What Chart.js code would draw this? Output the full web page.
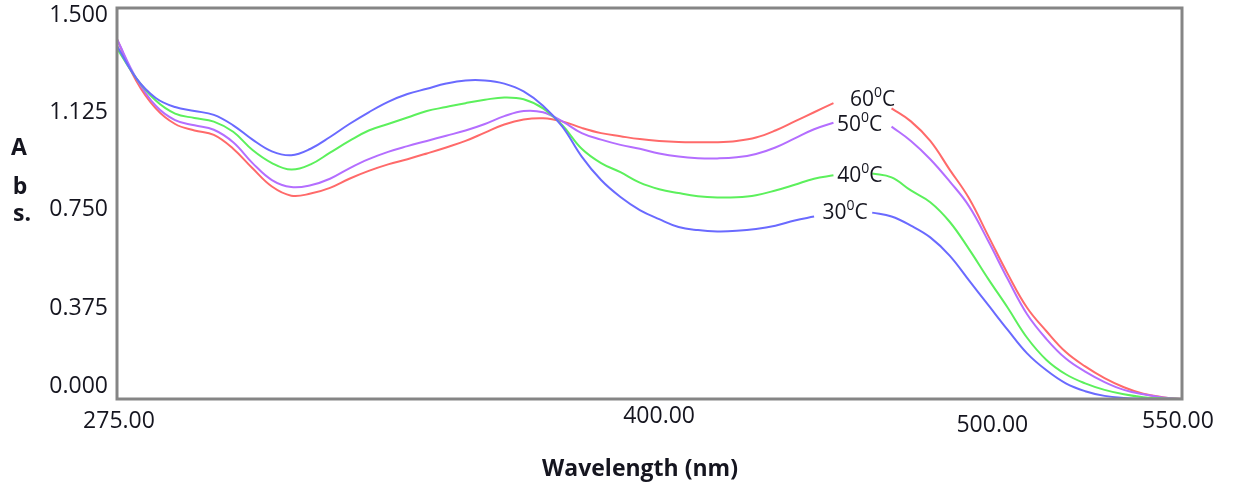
<!DOCTYPE html>
<html>
<head>
<meta charset="utf-8">
<script src="https://cdn.jsdelivr.net/npm/chart.js@4/dist/chart.umd.min.js"></script>
<style>
    html, body { margin: 0; padding: 0; background: #fff; }
    #wrap { width: 1235px; height: 492px; }
</style>
</head>
<body>
<div id="wrap"><canvas id="absChart" width="1235" height="492"></canvas></div>
<script>
// Comprimentos de onda (nm)
const wavelengths = [
    275, 280, 285, 290, 295, 300, 305, 310, 315, 320,
    325, 330, 335, 340, 345, 350, 355, 360, 365, 370,
    375, 380, 385, 390, 395, 400, 405, 410, 415, 420,
    425, 430, 435, 440, 445, 450, 455, 460, 465, 470,
    475, 480, 485, 490, 495, 500, 505, 510, 515, 520,
    525, 530, 535, 540, 545, 550
];

// Absorbância por temperatura (null = espaço do rótulo)
const abs30 = [
    1.355, 1.23, 1.155, 1.12, 1.105, 1.09, 1.05, 0.995, 0.95, 0.935,
    0.96, 1.005, 1.055, 1.10, 1.14, 1.17, 1.19, 1.21, 1.222, 1.222,
    1.21, 1.18, 1.125, 1.045, 0.93, 0.84, 0.775, 0.725, 0.69, 0.66,
    0.648, 0.643, 0.645, 0.652, 0.665, 0.685, 0.70, null, null, 0.715,
    0.70, 0.665, 0.62, 0.55, 0.455, 0.36, 0.265, 0.175, 0.11, 0.06,
    0.03, 0.012, 0.004, 0.001, 0, 0
];
const abs40 = [
    1.345, 1.23, 1.145, 1.095, 1.078, 1.064, 1.025, 0.955, 0.905, 0.88,
    0.90, 0.945, 0.99, 1.03, 1.055, 1.08, 1.105, 1.12, 1.135, 1.148,
    1.157, 1.15, 1.115, 1.05, 0.96, 0.905, 0.87, 0.83, 0.805, 0.79,
    0.778, 0.773, 0.774, 0.782, 0.80, 0.822, 0.845, 0.858, null, 0.865,
    0.85, 0.80, 0.755, 0.68, 0.575, 0.46, 0.35, 0.235, 0.15, 0.095,
    0.06, 0.035, 0.018, 0.007, 0.002, 0
];
const abs50 = [
    1.38, 1.23, 1.125, 1.07, 1.05, 1.033, 0.985, 0.905, 0.84, 0.813,
    0.82, 0.845, 0.885, 0.92, 0.948, 0.97, 0.99, 1.01, 1.03, 1.055,
    1.085, 1.105, 1.10, 1.065, 1.02, 0.995, 0.975, 0.96, 0.942, 0.93,
    0.924, 0.923, 0.927, 0.94, 0.965, 1.0, 1.035, 1.06, null, null,
    1.045, 0.99, 0.92, 0.835, 0.74, 0.605, 0.46, 0.325, 0.23, 0.155,
    0.105, 0.065, 0.035, 0.018, 0.006, 0
];
const abs60 = [
    1.38, 1.22, 1.115, 1.055, 1.03, 1.013, 0.96, 0.885, 0.815, 0.78,
    0.788, 0.81, 0.845, 0.875, 0.9, 0.92, 0.942, 0.965, 0.99, 1.022,
    1.053, 1.072, 1.077, 1.065, 1.04, 1.02, 1.008, 0.997, 0.99, 0.986,
    0.985, 0.985, 0.99, 1.003, 1.03, 1.065, 1.1, 1.135, null, null,
    1.115, 1.065, 0.99, 0.88, 0.77, 0.625, 0.48, 0.35, 0.26, 0.18,
    0.125, 0.08, 0.045, 0.02, 0.007, 0
];

const seriesNames = ['30', '40', '50', '60'];
const xTicks = [275, 400, 500, 550];
const yTicks = [0, 0.375, 0.75, 1.125, 1.5];

// Estilo
const lineColors = ['#6a6aff', '#5cf05c', '#b46eff', '#ff6a6a'];
const textColor = '#15151f';
const tickFont = '23px "Open Sans", sans-serif';
const xTickNudge = [[2, 421], [58, 416], [4, 425], [-4, 421]];
const yTickNudge = [-13, 7, 6, 7, 7];
const labelNudge = [[2, -2], [7, 2], [-3, 0], [10, -6]];

function toPoints(values) {
    return wavelengths.map((w, i) => ({ x: w, y: values[i] }));
}

// Rótulos, eixos e moldura desenhados à mão
const decorPlugin = {
    id: 'decor',
    afterDatasetsDraw(chart) {
        const ctx = chart.ctx;
        const area = chart.chartArea;
        const xs = chart.scales.x;
        const ys = chart.scales.y;

        ctx.save();
        // moldura
        ctx.strokeStyle = '#858585';
        ctx.lineWidth = 3;
        ctx.strokeRect(area.left, area.top, area.right - area.left, area.bottom - area.top);

        ctx.fillStyle = textColor;
        ctx.font = tickFont;
        ctx.textBaseline = 'middle';

        // eixo y
        ctx.textAlign = 'right';
        yTicks.forEach((v, i) => {
            ctx.fillText(v.toFixed(3), area.left - 9, ys.getPixelForValue(v) + yTickNudge[i]);
        });

        // eixo x
        ctx.textAlign = 'center';
        xTicks.forEach((v, i) => {
            ctx.fillText(v.toFixed(2), xs.getPixelForValue(v) + xTickNudge[i][0], xTickNudge[i][1]);
        });

        // títulos
        ctx.font = 'bold 23px "Open Sans", sans-serif';
        ctx.fillText('Wavelength (nm)', 640, 469);
        ctx.fillText('A', 19, 148);
        ctx.fillText('b', 20, 187);
        ctx.fillText('s.', 22, 214);

        // rótulos de temperatura no espaço de cada curva
        chart.data.datasets.forEach((ds, i) => {
            const pts = ds.data;
            let a = -1;
            for (let k = 1; k < pts.length; k++) {
                if (pts[k].y === null && pts[k - 1].y !== null) { a = k - 1; break; }
            }
            if (a < 0) return;
            let b = a + 1;
            while (pts[b].y === null) b++;
            const cx = (xs.getPixelForValue(pts[a].x) + xs.getPixelForValue(pts[b].x)) / 2 + labelNudge[i][0];
            const cy = (ys.getPixelForValue(pts[a].y) + ys.getPixelForValue(pts[b].y)) / 2 + labelNudge[i][1];

            const main = seriesNames[i];
            ctx.font = '21px "Open Sans", sans-serif';
            const wMain = ctx.measureText(main).width;
            const wC = ctx.measureText('C').width;
            ctx.font = '14px "Open Sans", sans-serif';
            const wSup = ctx.measureText('0').width;
            const total = wMain + wSup + wC;
            const x0 = cx - total / 2;

            ctx.textAlign = 'left';
            ctx.textBaseline = 'middle';
            ctx.font = '21px "Open Sans", sans-serif';
            ctx.fillText(main, x0, cy);
            ctx.font = '14px "Open Sans", sans-serif';
            ctx.fillText('0', x0 + wMain, cy - 7);
            ctx.font = '21px "Open Sans", sans-serif';
            ctx.fillText('C', x0 + wMain + wSup, cy);
        });
        ctx.restore();
    }
};

const datasets = [abs30, abs40, abs50, abs60].map((vals, i) => ({
    label: seriesNames[i] + '\u2070C',
    data: toPoints(vals),
    borderColor: lineColors[i],
    borderWidth: 2,
    pointRadius: 0,
    fill: false,
    spanGaps: false,
    tension: 0.4
}));

new Chart(document.getElementById('absChart'), {
    type: 'line',
    data: { datasets: datasets },
    options: {
        responsive: false,
        animation: false,
        events: [],
        layout: { padding: { left: 117, top: 8, right: 53, bottom: 93 } },
        scales: {
            x: { type: 'linear', min: 275, max: 550, display: false },
            y: { type: 'linear', min: 0, max: 1.5, display: false }
        },
        plugins: {
            legend: { display: false },
            tooltip: { enabled: false }
        }
    },
    plugins: [decorPlugin]
});
</script>
</body>
</html>
